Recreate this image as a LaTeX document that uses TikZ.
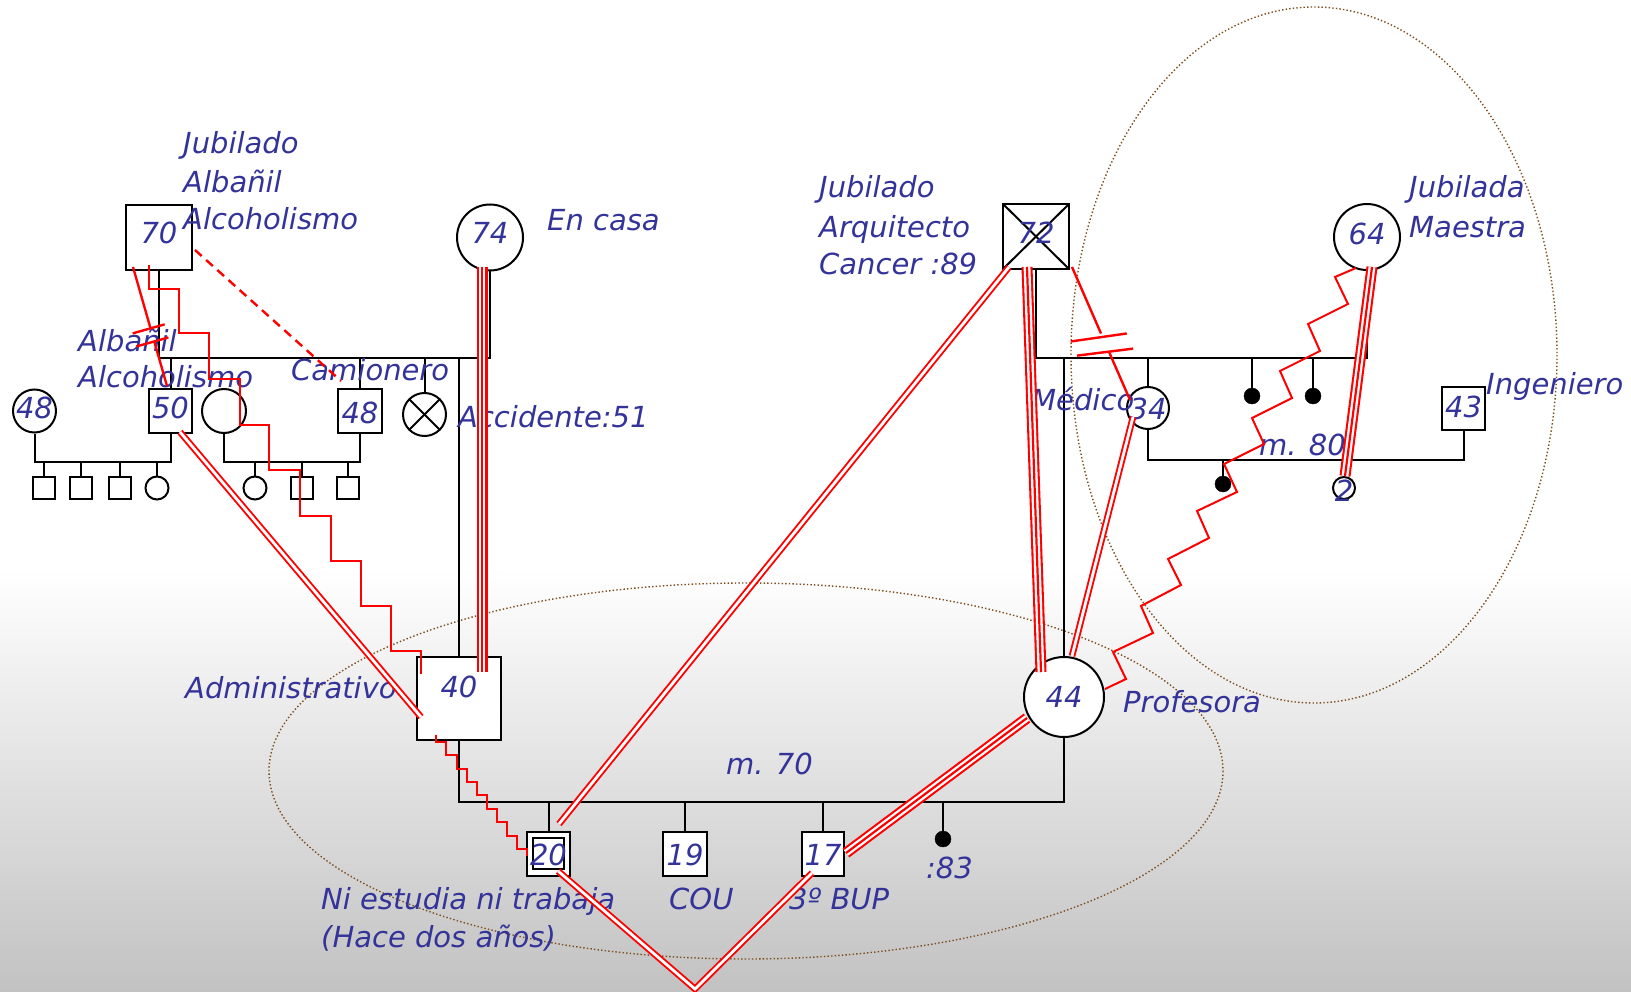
\documentclass[tikz,border=0pt]{standalone}
\usepackage{fontspec}
\setmainfont{DejaVu Sans}
\usetikzlibrary{calc}
\definecolor{txtblue}{RGB}{51,51,153}
\definecolor{halobrown}{RGB}{125,78,30}
\newcommand{\numtxt}[2][-9pt]{\makebox[0pt]{\raisebox{#1}[0pt][0pt]{#2}}}
\begin{document}
\begin{tikzpicture}[x=1pt,y=-1pt,
  every node/.style={font=\fontsize{29pt}{34pt}\selectfont\itshape, text=txtblue},
  lbl/.style={anchor=base west, inner sep=0pt},
  pbox/.style={draw=black, line width=2pt, fill=white, rectangle, inner sep=0pt},
  pcirc/.style={draw=black, line width=2pt, fill=white, circle, inner sep=0pt},
  kidbox/.style={pbox, minimum size=22pt},
  kidcirc/.style={pcirc, minimum size=23pt},
  dotnode/.style={circle, fill=black, draw=black, inner sep=0pt, minimum size=16pt},
  bl/.style={draw=black, line width=2pt},
  rs/.style={draw=red, line width=2.4pt},
  rzig/.style={draw=red, line width=2pt},
  rdash/.style={draw=red, line width=2.4pt, dash pattern=on 9pt off 6pt},
  rdouble/.style={draw=red, double=white, line width=1.9pt, double distance=2.8pt},
  rtriple/.style={draw=red, line width=2.2pt, preaction={draw=red, line width=11pt}, preaction={draw=white, line width=6.8pt}},
  halo/.style={draw=halobrown, line width=1.4pt, dash pattern=on 1.4pt off 2.2pt}
]
\useasboundingbox (0,0) rectangle (1631,992);
\fill[white] (0,0) rectangle (1631,992);
\shade[top color=white, bottom color=black!24] (0,570) rectangle (1631,992);

% emotional-system ellipses
\draw[halo] (746,771) ellipse [x radius=477, y radius=188];
\draw[halo] (1314,355) ellipse [x radius=243, y radius=348];

% ---------- nodes ----------
\node[pbox, minimum width=66pt, minimum height=65pt] (b70) at (159,237.5) {\numtxt[-6pt]{70}};
\node[pcirc, minimum size=66pt] (c74) at (490,237.5) {\numtxt[-6.5pt]{74}};
\node[pcirc, minimum size=43pt] (c48a) at (34.5,411) {\numtxt[-7pt]{48}};
\node[pbox, minimum width=43pt, minimum height=44pt] (b50) at (170.5,411) {\numtxt[-7.5pt]{50}};
\node[pcirc, minimum size=44pt] (cw) at (224,411) {};
\node[pbox, minimum width=44pt, minimum height=44pt] (b48) at (360,411) {\numtxt[-12pt]{48}};
\node[pcirc, minimum size=43pt, path picture={
   \draw[line width=2pt] ([shift={(-16,-16)}]path picture bounding box.center) -- ++(32,32);
   \draw[line width=2pt] ([shift={(16,-16)}]path picture bounding box.center) -- ++(-32,32);}] (cx) at (424.5,414.5) {};
\node[kidbox] (k1) at (43.5,488) {};
\node[kidbox] (k2) at (80.5,488) {};
\node[kidbox] (k3) at (119.5,488) {};
\node[kidcirc] (k4) at (157,488) {};
\node[kidcirc] (k5) at (255,488) {};
\node[kidbox] (k6) at (301.5,488) {};
\node[kidbox] (k7) at (347.5,488) {};
\node[pbox, minimum width=84pt, minimum height=83pt] (b40) at (459,698.5) {\numtxt[1pt]{40}};

\node[pbox, minimum width=66pt, minimum height=65pt, path picture={
   \draw[line width=2pt] (path picture bounding box.north west) -- (path picture bounding box.south east);
   \draw[line width=2pt] (path picture bounding box.north east) -- (path picture bounding box.south west);}] (b72) at (1036,236.5) {\numtxt[-7.5pt]{72}};
\node[pcirc, minimum size=66pt] (c64) at (1367,237) {\numtxt[-7.5pt]{64}};
\node[pcirc, minimum size=42pt] (c34) at (1148,408) {\numtxt[-11pt]{34}};
\node[dotnode] (d1) at (1252,396) {};
\node[dotnode] (d2) at (1313,396) {};
\node[pbox, minimum width=43pt, minimum height=43pt] (b43) at (1463.5,408.5) {\numtxt[-8.5pt]{43}};
\node[dotnode] (d3) at (1223,484) {};
\node[pcirc, minimum size=22pt] (c2) at (1344,488) {\numtxt[-13.5pt]{2}};
\node[pcirc, minimum size=80pt] (c44) at (1064,697) {\numtxt[-10pt]{44}};
\node[pbox, minimum width=43pt, minimum height=44pt, path picture={
   \draw[line width=2pt] ([shift={(-16,-16.5)}]path picture bounding box.center) rectangle ++(31,31);}] (b20) at (548.5,854) {\numtxt[-11pt]{20}};
\node[pbox, minimum width=44pt, minimum height=44pt] (b19) at (685,854) {\numtxt[-11pt]{19}};
\node[pbox, minimum width=42pt, minimum height=44pt] (b17) at (823,854) {\numtxt[-11pt]{17}};
\node[dotnode] (d4) at (943,839) {};

% ---------- black family lines ----------
\coordinate (m1) at (0,358);
\coordinate (f1) at (0,462);
\coordinate (m2) at (0,358);
\coordinate (f3) at (0,460);
\coordinate (f4) at (0,802);
\draw[bl] (b70.south) -- (b70.south |- m1) -- (c74.south |- m1) -- (c74.south);
\foreach \n in {b50,b48,cx,b40} \draw[bl] (\n.north) -- (\n.north |- m1);
\draw[bl] (c48a.south) -- (c48a.south |- f1) -- (b50.south |- f1) -- (b50.south);
\draw[bl] (cw.south) -- (cw.south |- f1) -- (b48.south |- f1) -- (b48.south);
\foreach \n in {k1,k2,k3,k4,k5,k6,k7} \draw[bl] (\n.north) -- (\n.north |- f1);

\draw[bl] (b72.south) -- (b72.south |- m2) -- (c64.south |- m2) -- (c64.south);
\foreach \n in {c44,c34,d1,d2} \draw[bl] (\n.north) -- (\n.north |- m2);
\draw[bl] (c34.south) -- (c34.south |- f3) -- (b43.south |- f3) -- (b43.south);
\foreach \n in {d3,c2} \draw[bl] (\n.north) -- (\n.north |- f3);

\draw[bl] (b40.south) -- (b40.south |- f4) -- (c44.south |- f4) -- (c44.south);
\foreach \n in {b20,b19,b17,d4} \draw[bl] (\n.north) -- (\n.north |- f4);

% ---------- labels ----------
\node[lbl] at (183,154) {Jubilado};
\node[lbl] at (183,193) {Albañil};
\node[lbl] at (183,230) {Alcoholismo};
\node[lbl] at (547,231) {En casa};
\node[lbl] at (78,352) {Albañil};
\node[lbl] at (78,388) {Alcoholismo};
\node[lbl] at (291,381) {Camionero};
\node[lbl] at (458,427) {Accidente:51};
\node[lbl] at (819,198) {Jubilado};
\node[lbl] at (819,238) {Arquitecto};
\node[lbl] at (819,275) {Cancer :89};
\node[lbl] at (1409,198) {Jubilada};
\node[lbl] at (1409,238) {Maestra};
\node[lbl] at (1031,410) {Médico};
\node[lbl] at (1486,395) {Ingeniero};
\node[lbl] at (1259,455) {m. 80};
\node[lbl] at (185,698) {Administrativo};
\node[lbl] at (1123,712) {Profesora};
\node[lbl] at (726,774) {m. 70};
\node[lbl] at (669,909) {COU};
\node[lbl] at (789,909) {3º BUP};
\node[lbl] at (926,878) {:83};
\node[lbl] at (321,909) {Ni estudia ni trabaja};
\node[lbl] at (321,947) {(Hace dos años)};

% ---------- red relationship lines ----------
% 70 - 50 cut-off
\coordinate (ca) at ($(b70.south west)+(8,-4)$);
\coordinate (cb) at ($(b50.north)+(-3.5,-2)$);
\draw[rs] (ca) -- ($(ca)!0.52!(cb)$) ($(ca)!0.63!(cb)$) -- (cb);
\draw[rs] ($(ca)!0.52!(cb)+(-18,4.5)$) -- ++(32,-9);
\draw[rs] ($(ca)!0.63!(cb)+(-18,4.5)$) -- ++(32,-9);
% 70 - 40 stepped line
\draw[rzig] ($(b70.south)+(-10,-6)$) -- ++(0,24) -- ++(30,0) -- ++(0,44) -- ++(30,0) -- ++(0,46) -- ++(31,0)
  -- ++(0,46) -- ++(29,0) -- ++(0,45) -- ++(31,0) -- ++(0,46) -- ++(31,0) -- ++(0,45) -- ++(30,0)
  -- ++(0,45) -- ++(30,0) -- ++(0,45) -- ++(30,0) -- ++(0,23);
% 70 - 48 dashed
\draw[rdash] ($(b70.east)+(2,12.5)$) -- ($(b48.north)+(-19,-7)$);
% 50 - 40 double
\draw[rdouble] ($(b50.south)+(9.5,-2)$) -- ($(b40.west)+(5,18.5)$);
% 74 - 40 triple
\draw[rtriple] ($(c74.south)+(-8,-4.5)$) -- ($(b40.north)+(23,16)$);
% 72 - 20 double
\draw[rdouble] ($(b72.south west)+(7,-3)$) -- ($(b20.north east)+(-12,-7)$);
% 72 - 44 triple
\draw[rtriple] ($(b72.south)+(-9,-3)$) -- ($(c44.north)+(-23,16)$);
% 72 - 34 cut-off
\coordinate (qa) at ($(b72.south east)+(2,-3)$);
\coordinate (qb) at ($(c34.west)+(4,-8)$);
\draw[rs] (qa) -- ($(qa)!0.5!(qb)$) ($(qa)!0.645!(qb)$) -- (qb);
\draw[rs] ($(qa)!0.53!(qb)+(-32,4)$) -- ++(56,-8);
\draw[rs] ($(qa)!0.64!(qb)+(-32,3.5)$) -- ++(56,-7);
% 34 - 44 double
\draw[rdouble] ($(c34.center)+(-15,9)$) -- ($(c44.north)+(8,0)$);
% 64 - 44 zigzag
\draw[rzig] ($(c64.south)+(-11,-3)$) -- ++(-21,9) -- ++(13,27) -- ++(-40,20) -- ++(12,27) -- ++(-40,20)
  -- ++(12,27) -- ++(-40,20) -- ++(12,26) -- ++(-40,20) -- ++(13,28) -- ++(-40,19) -- ++(12,27)
  -- ++(-41,21) -- ++(13,26) -- ++(-40,21) -- ++(12,27) -- ++(-40,19) -- ++(13,27) -- ++(-21,10);
% 64 - 2 triple
\draw[rtriple] ($(c64.south)+(5,-4)$) -- ($(c2.north)+(1,0)$);
% 44 - 17 triple
\draw[rtriple] ($(c44.center)+(-37,21)$) -- ($(b17.east)+(1,-1)$);
% 20 - 17 double
\coordinate (vap) at (695,989);
\draw[rdouble] ($(b20.south)+(9.5,-6)$) -- (vap) -- ($(b17.south)+(-11,-4)$);
% 40 - 20 small zigzag
\draw[rzig] ($(b40.south)+(-23,-6)$) -- ++(0,7) -- ++(10,0) -- ++(0,13) -- ++(11,0) -- ++(0,14) -- ++(10,0)
  -- ++(0,13) -- ++(10,0) -- ++(0,13) -- ++(10,0) -- ++(0,14) -- ++(10,0) -- ++(0,13) -- ++(10,0)
  -- ++(0,14) -- ++(10,0) -- ++(0,13) -- ++(10,0) -- ++(0,7);
\end{tikzpicture}
\end{document}
